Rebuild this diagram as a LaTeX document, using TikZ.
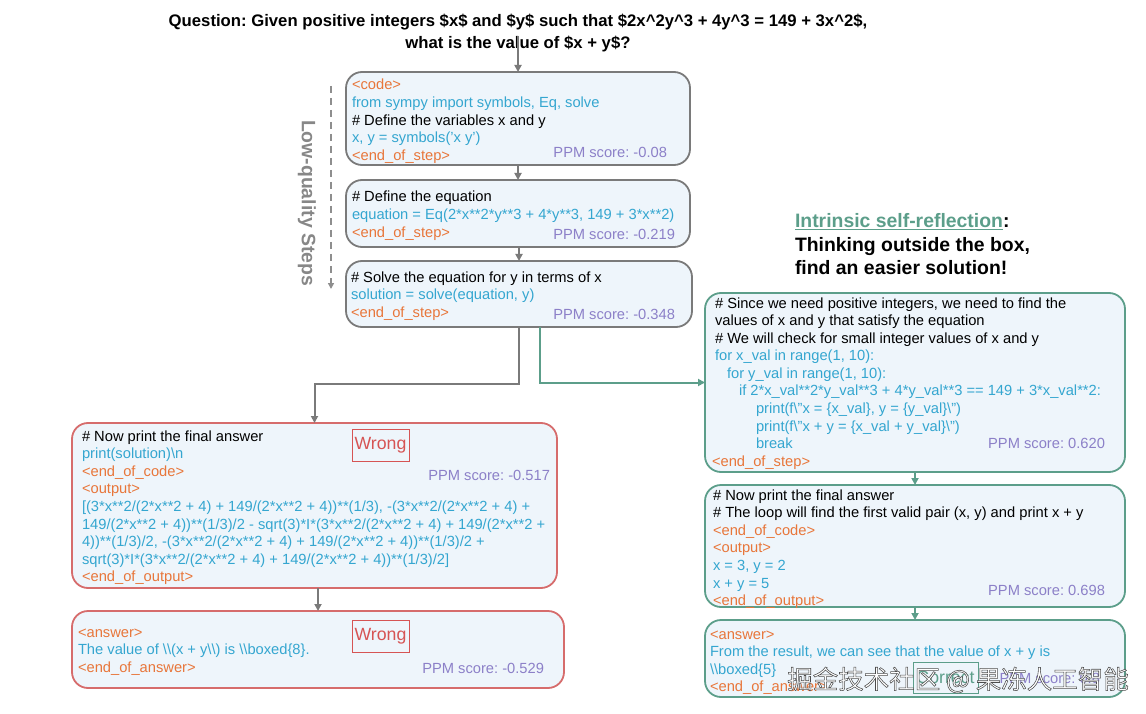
\documentclass[tikz,border=0pt]{standalone}
\usepackage{fontspec}
\setmainfont{Liberation Sans}
\newfontfamily\cjkfont{Noto Sans CJK SC}
\usetikzlibrary{arrows.meta}
\frenchspacing
\definecolor{tagc}{RGB}{232,118,58}
\definecolor{codec}{RGB}{52,166,208}
\definecolor{ppmc}{RGB}{140,128,200}
\definecolor{wrongc}{RGB}{214,84,84}
\definecolor{greyb}{RGB}{122,122,122}
\definecolor{redb}{RGB}{214,108,108}
\definecolor{tealb}{RGB}{92,158,138}
\definecolor{boxfill}{RGB}{238,245,251}
\newcommand\tg[1]{\textcolor{tagc}{#1}}
\newcommand\cd[1]{\textcolor{codec}{#1}}
\newcommand\bs{\textbackslash}
\newcommand\sq{\char"27}
\tikzset{
  every node/.style={inner sep=0pt, outer sep=0pt},
  body/.style={font=\fontsize{14.7}{17.6}\selectfont, anchor=base west},
  ppm/.style={font=\fontsize{14.7}{17.6}\selectfont, text=ppmc, anchor=base east},
  box/.style={line width=1.8pt, rounded corners=16pt, fill=boxfill, anchor=north west},
  greybox/.style={box, draw=greyb},
  redbox/.style={box, draw=redb},
  tealbox/.style={box, draw=tealb},
  garrow/.style={draw=greyb, line width=2pt, -{Triangle[length=7pt,width=7pt]}},
  tarrow/.style={draw=tealb, line width=2pt, -{Triangle[length=7pt,width=7pt]}},
  verdict/.style={draw, line width=1pt, font=\fontsize{17.7}{20}\selectfont, minimum height=32pt},
}
\begin{document}
\begin{tikzpicture}[x=1pt,y=-1pt]
\useasboundingbox (0,0) rectangle (1146,714);

% question
\node[font=\fontsize{16.7}{22}\selectfont\bfseries, align=center] (q) at (518,33)
 {Question: Given positive integers \$x\$ and \$y\$ such that \$2x\textasciicircum 2y\textasciicircum 3 + 4y\textasciicircum 3 = 149 + 3x\textasciicircum 2\$,\\what is the value of \$x + y\$?};
\coordinate (qa) at (518,36);

% boxes
\node[greybox, minimum width=344pt, minimum height=93pt] (b1) at (346,72) {};
\node[greybox, minimum width=344pt, minimum height=67pt] (b2) at (346,180) {};
\node[greybox, minimum width=346pt, minimum height=66pt] (b3) at (346,261) {};
\node[redbox, minimum width=485pt, minimum height=165pt] (bA) at (72,423) {};
\node[redbox, minimum width=492pt, minimum height=77pt] (bB) at (72,611) {};
\node[tealbox, minimum width=420pt, minimum height=179pt] (bC) at (705,293) {};
\node[tealbox, minimum width=420pt, minimum height=122pt] (bD) at (705,485) {};
\node[tealbox, minimum width=420pt, minimum height=77pt] (bE) at (705,620) {};

% box texts
\node[body] (t1) at (352,90) {\begin{tabular}[t]{@{}l@{}}
\tg{<code>}\\
\cd{from sympy import symbols, Eq, solve}\\
\# Define the variables x and y\\
\cd{x, y = symbols(\sq x y\sq)}\\
\tg{<end\_of\_step>}
\end{tabular}};
\node[ppm] (p1) at (667,158) {PPM score: -0.08};

\node[body] (t2) at (352,202) {\begin{tabular}[t]{@{}l@{}}
\# Define the equation\\
\cd{equation = Eq(2*x**2*y**3 + 4*y**3, 149 + 3*x**2)}\\
\tg{<end\_of\_step>}
\end{tabular}};
\node[ppm] (p2) at (675,240) {PPM score: -0.219};

\node[body] (t3) at (351,282) {\begin{tabular}[t]{@{}l@{}}
\# Solve the equation for y in terms of x\\
\cd{solution = solve(equation, y)}\\
\tg{<end\_of\_step>}
\end{tabular}};
\node[ppm] (p3) at (675,319) {PPM score: -0.348};

\node[body] (tA) at (82,441) {\begin{tabular}[t]{@{}l@{}}
\# Now print the final answer\\
\cd{print(solution)\bs n}\\
\tg{<end\_of\_code>}\\
\tg{<output>}\\
\cd{[(3*x**2/(2*x**2 + 4) + 149/(2*x**2 + 4))**(1/3), -(3*x**2/(2*x**2 + 4) +}\\
\cd{149/(2*x**2 + 4))**(1/3)/2 - sqrt(3)*I*(3*x**2/(2*x**2 + 4) + 149/(2*x**2 +}\\
\cd{4))**(1/3)/2, -(3*x**2/(2*x**2 + 4) + 149/(2*x**2 + 4))**(1/3)/2 +}\\
\cd{sqrt(3)*I*(3*x**2/(2*x**2 + 4) + 149/(2*x**2 + 4))**(1/3)/2]}\\
\tg{<end\_of\_output>}
\end{tabular}};
\node[ppm] (pA) at (550,480) {PPM score: -0.517};
\node[verdict, draw=wrongc, text=wrongc, minimum width=57pt] (wA) at (380.5,445) {Wrong};

\node[body] (tB) at (78,637) {\begin{tabular}[t]{@{}l@{}}
\tg{<answer>}\\
\cd{The value of \bs\bs(x + y\bs\bs) is \bs\bs boxed\{8\}.}\\
\tg{<end\_of\_answer>}
\end{tabular}};
\node[ppm] (pB) at (544,673) {PPM score: -0.529};
\node[verdict, draw=wrongc, text=wrongc, minimum width=57pt] (wB) at (380.5,636) {Wrong};

\node[body] (tC) at (715,308) {\begin{tabular}[t]{@{}l@{}}
\# Since we need positive integers, we need to find the\\
values of x and y that satisfy the equation\\
\# We will check for small integer values of x and y\\
\cd{for x\_val in range(1, 10):}\\
\cd{\hspace{12pt}for y\_val in range(1, 10):}\\
\cd{\hspace{24pt}if 2*x\_val**2*y\_val**3 + 4*y\_val**3 == 149 + 3*x\_val**2:}\\
\cd{\hspace{41pt}print(f\bs"x = \{x\_val\}, y = \{y\_val\}\bs")}\\
\cd{\hspace{41pt}print(f\bs"x + y = \{x\_val + y\_val\}\bs")}\\
\cd{\hspace{41pt}break}\\
\hspace{-3pt}\tg{<end\_of\_step>}
\end{tabular}};
\node[ppm] (pC) at (1105,448) {PPM score: 0.620};

\node[body] (tD) at (713,500) {\begin{tabular}[t]{@{}l@{}}
\# Now print the final answer\\
\# The loop will find the first valid pair (x, y) and print x + y\\
\tg{<end\_of\_code>}\\
\tg{<output>}\\
\cd{x = 3, y = 2}\\
\cd{x + y = 5}\\
\tg{<end\_of\_output>}
\end{tabular}};
\node[ppm] (pD) at (1105,595) {PPM score: 0.698};

\node[body] (tE) at (710,639) {\begin{tabular}[t]{@{}l@{}}
\tg{<answer>}\\
\cd{From the result, we can see that the value of x + y is}\\
\cd{\bs\bs boxed\{5\}}\\
\tg{<end\_of\_answer>}
\end{tabular}};
\node[ppm] (pE) at (1100,683) {PPM score: 0.8};
\node[verdict, draw=tealb, text=tealb, minimum width=65pt, minimum height=31pt] (cE) at (945.5,677.5) {Correct};

% heading
\node[font=\fontsize{19.4}{23.5}\selectfont\bfseries, anchor=base west] (hd) at (795,228) {\begin{tabular}[t]{@{}l@{}}
\textcolor{tealb}{\underline{Intrinsic self-reflection}}:\\
Thinking outside the box,\\
find an easier solution!
\end{tabular}};

% low-quality label
\coordinate (ls) at (331,86);
\coordinate (le) at (331,289);
\draw[draw=greyb!85, line width=1.6pt, dash pattern=on 7pt off 5pt, -{Triangle[length=6pt,width=6pt]}] (ls) -- (le);
\node[rotate=-90, font=\fontsize{19.4}{23}\selectfont\bfseries, text=greyb!90] (lq) at (307,203) {Low-quality Steps};

% connectors
\draw[garrow] (qa) -- (b1.north);
\draw[garrow] (b1.south) -- (b2.north);
\draw[garrow] (b2.south -| b3.north) -- (b3.north);
\draw[garrow] (b3.south) -- ++(0,57) -| (bA.north);
\draw[tarrow] ([xshift=21pt]b3.south) |- (bC.west);
\draw[garrow] (bA.south -| bB.north) -- (bB.north);
\draw[tarrow] (bC.south) -- (bD.north);
\draw[tarrow] (bD.south) -- (bE.north);

% watermark (outlined white text)
\node[font=\cjkfont\fontsize{25.5}{28}\selectfont, text=white] (wm) at (958,680)
 {\special{pdf:literal 0.3 G 0.55 w 2 Tr}掘金技术社区 @ 果冻人工智能\special{pdf:literal 0 Tr}};
\end{tikzpicture}
\end{document}
